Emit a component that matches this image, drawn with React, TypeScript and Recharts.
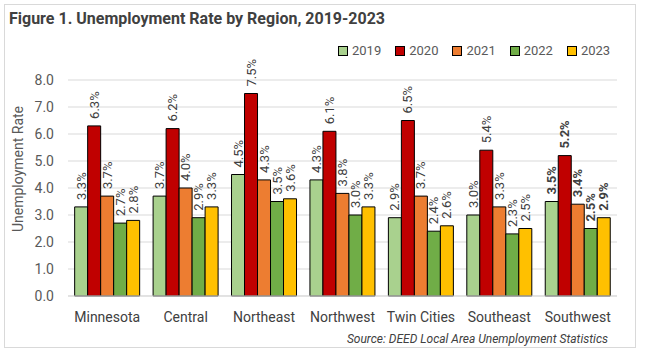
import { BarChart, Bar, XAxis, YAxis, CartesianGrid, Legend, LabelList } from 'recharts';

const regions = ['Minnesota', 'Central', 'Northeast', 'Northwest', 'Twin Cities', 'Southeast', 'Southwest'];
const years = ['2019', '2020', '2021', '2022', '2023'];
const rate2019 = [3.3, 3.7, 4.5, 4.3, 2.9, 3.0, 3.5];
const rate2020 = [6.3, 6.2, 7.5, 6.1, 6.5, 5.4, 5.2];
const rate2021 = [3.7, 4.0, 4.3, 3.8, 3.7, 3.3, 3.4];
const rate2022 = [2.7, 2.9, 3.5, 3.0, 2.4, 2.3, 2.5];
const rate2023 = [2.8, 3.3, 3.6, 3.3, 2.6, 2.5, 2.9];
const yTicks = [0, 1, 2, 3, 4, 5, 6, 7, 8];

const colors = ['#A9D18E', '#C00000', '#ED7D31', '#70AD47', '#FFC000'];
const series = [rate2019, rate2020, rate2021, rate2022, rate2023];

const data = regions.map((region, i) => {
  const row: any = { region };
  years.forEach((y, j) => {
    row[y] = series[j][i];
  });
  return row;
});

const font = 'Roboto, "Noto Sans", sans-serif';

// rotated value label above each bar
const RotatedLabel = (props: any) => {
  const { x, y, width, value, index } = props;
  const cx = x + width / 2;
  const cy = y - 7;
  const bold = regions[index] === 'Southwest';
  return (
    <text
      x={cx}
      y={cy}
      transform={`rotate(-90, ${cx}, ${cy})`}
      textAnchor="start"
      dominantBaseline="central"
      fontSize={13}
      fontFamily={font}
      fontWeight={bold ? 700 : 400}
      fill="#404040"
    >
      {Number(value).toFixed(1)}%
    </text>
  );
};

const LegendContent = () => (
  <div style={{ display: 'flex', gap: 14, fontFamily: font, fontSize: 13, color: '#595959' }}>
    {years.map((y, i) => (
      <div key={y} style={{ display: 'flex', alignItems: 'center', gap: 4 }}>
        <span style={{ width: 8, height: 8, background: colors[i], border: '1px solid #000', display: 'inline-block' }} />
        <span>{y}</span>
      </div>
    ))}
  </div>
);

export default function App() {
  return (
    <div style={{ position: 'absolute', left: 0, top: 0, width: 645, height: 356, background: '#fff' }}>
      <div
        style={{
          position: 'absolute',
          left: 4,
          top: 4,
          width: 632,
          height: 344,
          border: '1px solid #D9D9D9',
          boxSizing: 'border-box',
        }}
      />
      <div
        style={{
          position: 'absolute',
          left: 9,
          top: 9,
          fontFamily: font,
          fontWeight: 700,
          fontSize: 16,
          color: '#404040',
        }}
      >
        Figure 1. Unemployment Rate by Region, 2019-2023
      </div>
      <div
        style={{
          position: 'absolute',
          left: 18,
          top: 169,
          transform: 'translate(-50%, -50%) rotate(-90deg)',
          whiteSpace: 'nowrap',
          fontFamily: font,
          fontSize: 14,
          color: '#595959',
        }}
      >
        Unemployment Rate
      </div>
      <div
        style={{
          position: 'absolute',
          right: 37,
          top: 332,
          fontFamily: font,
          fontStyle: 'italic',
          fontSize: 12,
          color: '#404040',
        }}
      >
        Source: DEED Local Area Unemployment Statistics
      </div>
      <div style={{ position: 'absolute', left: 0, top: 0 }}>
        <BarChart
          width={645}
          height={356}
          data={data}
          margin={{ top: 65, right: 28, bottom: 30, left: 0 }}
          barGap={0}
          barCategoryGap="8.5%"
        >
          <CartesianGrid vertical={false} stroke="#D9D9D9" />
          <XAxis
            dataKey="region"
            height={30}
            tickLine={false}
            axisLine={{ stroke: '#D9D9D9' }}
            tickMargin={10}
            interval={0}
            tick={{ fontSize: 14, fill: '#404040', fontFamily: font }}
          />
          <YAxis
            width={68}
            domain={[0, 8]}
            ticks={yTicks}
            axisLine={false}
            tickLine={false}
            tickMargin={8}
            tickFormatter={(v) => Number(v).toFixed(1)}
            tick={{ fontSize: 14, fill: '#595959', fontFamily: font }}
          />
          <Legend
            verticalAlign="top"
            content={<LegendContent />}
            wrapperStyle={{ top: 43, left: 338, width: 290 }}
          />
          {years.map((y, i) => (
            <Bar key={y} dataKey={y} fill={colors[i]} stroke="#000" strokeWidth={1} isAnimationActive={false}>
              <LabelList dataKey={y} content={<RotatedLabel />} />
            </Bar>
          ))}
        </BarChart>
      </div>
    </div>
  );
}
